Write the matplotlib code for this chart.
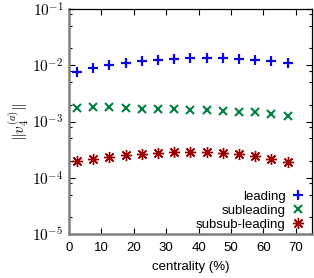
import matplotlib
matplotlib.use("Agg")
import matplotlib.pyplot as plt
from matplotlib.ticker import LogLocator, FixedLocator, NullFormatter
import numpy as np

plt.rcParams['font.family'] = ['Liberation Sans', 'DejaVu Sans']
plt.rcParams['mathtext.fontset'] = 'cm'

centrality = [2.5, 7.5, 12.5, 17.5, 22.5, 27.5, 32.5, 37.5, 42.5, 47.5, 52.5, 57.5, 62.5, 67.5]
leading = [7.6e-3, 9.1e-3, 1.03e-2, 1.12e-2, 1.21e-2, 1.26e-2, 1.29e-2, 1.35e-2, 1.37e-2, 1.33e-2, 1.29e-2, 1.26e-2, 1.21e-2, 1.12e-2]
subleading = [1.77e-3, 1.80e-3, 1.80e-3, 1.77e-3, 1.70e-3, 1.70e-3, 1.68e-3, 1.63e-3, 1.62e-3, 1.57e-3, 1.49e-3, 1.47e-3, 1.38e-3, 1.28e-3]
subsub = [2.0e-4, 2.15e-4, 2.3e-4, 2.5e-4, 2.64e-4, 2.75e-4, 2.86e-4, 2.86e-4, 2.86e-4, 2.75e-4, 2.64e-4, 2.4e-4, 2.2e-4, 1.9e-4]
labels = ["leading", "subleading", "subsub-leading"]
xticks = [0, 10, 20, 30, 40, 50, 60, 70]
yticks = [1e-5, 1e-4, 1e-3, 1e-2, 1e-1]

fig = plt.figure(figsize=(3.14, 2.78), dpi=100)
ax = fig.add_axes([0.2197, 0.158, 0.7739, 0.8096])

ax.plot(centrality, leading, linestyle='none', marker='+', ms=7.5, mew=1.6, color='#0a0ae0', label=labels[0])
ax.plot(centrality, subleading, linestyle='none', marker='x', ms=5.5, mew=1.5, color='#008040', label=labels[1])
ax.plot(centrality, subsub, linestyle='none', marker=(8, 2, 0), ms=8, mew=1.0, color='#9a0000', label=labels[2])

ax.set_yscale('log')
ax.set_xlim(0, 75)
ax.set_ylim(1e-5, 1e-1)
ax.set_xticks(xticks)
ax.set_xticklabels([str(t) for t in xticks])
ax.yaxis.set_major_locator(FixedLocator(yticks))
ax.set_yticklabels([r'$10^{%d}$' % int(np.log10(t)) for t in yticks])
ax.yaxis.set_minor_locator(LogLocator(base=10, subs=(2, 5, 8)))
ax.yaxis.set_minor_formatter(NullFormatter())

ax.tick_params(axis='both', which='major', direction='in', length=4, width=0.8, top=True, right=True, labelsize=9.5, pad=5.5)
ax.tick_params(axis='y', which='major', labelsize=11, pad=4)
ax.tick_params(axis='y', which='minor', direction='in', length=2, width=0.8, right=True)
ax.tick_params(axis='x', which='minor', bottom=False, top=False)

for s in ['left', 'bottom']:
    ax.spines[s].set_color('#808080')
    ax.spines[s].set_linewidth(1.8)
for s in ['top', 'right']:
    ax.spines[s].set_color('black')
    ax.spines[s].set_linewidth(0.9)

ax.set_xlabel('centrality (%)', fontsize=9.5, labelpad=5)
ax.set_ylabel(r'$\|v_4^{(a)}\|$', fontsize=11, labelpad=1)

ax.legend(loc='lower right', bbox_to_anchor=(0.995, -0.02), markerfirst=False, frameon=False, fontsize=9.5,
          handlelength=0.8, handletextpad=0.5, labelspacing=0.12, borderaxespad=0.3,
          borderpad=0.3)

fig.savefig('out.png', dpi=100)
